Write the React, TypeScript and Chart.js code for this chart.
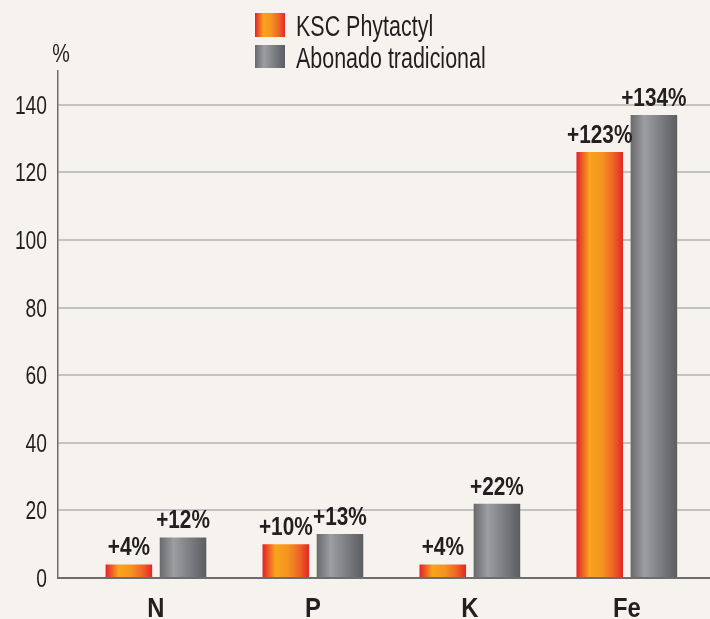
import React, { useEffect, useRef } from "react";
import { Chart, registerables } from "chart.js";

Chart.register(...registerables);

const categories = ["N", "P", "K", "Fe"];
const seriesNames = ["KSC Phytactyl", "Abonado tradicional"];
const kscValues = [4, 10, 4, 126];
const tradValues = [12, 13, 22, 137];
const kscLabels = ["+4%", "+10%", "+4%", "+123%"];
const tradLabels = ["+12%", "+13%", "+22%", "+134%"];
const yTicks = [0, 20, 40, 60, 80, 100, 120, 140];
const yMax = 150;
const unitLabel = "%";

const FONT = "'Liberation Sans', Arial, sans-serif";
const TEXT = "#231f20";
const BG = "#f6f3ef";

function orangeGrad(ctx: CanvasRenderingContext2D, x0: number, x1: number) {
  const g = ctx.createLinearGradient(x0, 0, x1, 0);
  g.addColorStop(0, "#e4202a");
  g.addColorStop(0.28, "#f8a41c");
  g.addColorStop(0.55, "#f49321");
  g.addColorStop(0.8, "#ee6326");
  g.addColorStop(1, "#e42626");
  return g;
}
function grayGrad(ctx: CanvasRenderingContext2D, x0: number, x1: number) {
  const g = ctx.createLinearGradient(x0, 0, x1, 0);
  g.addColorStop(0, "#69696c");
  g.addColorStop(0.3, "#9d9ea1");
  g.addColorStop(0.5, "#8a8b8e");
  g.addColorStop(1, "#5c5d60");
  return g;
}
const grads = [orangeGrad, grayGrad];
const barLabels = [kscLabels, tradLabels];

// condensed text: Liberation Sans squeezed horizontally
function condText(
  ctx: CanvasRenderingContext2D,
  text: string,
  x: number,
  y: number,
  size: number,
  bold: boolean,
  align: CanvasTextAlign,
  sx: number
) {
  ctx.save();
  ctx.translate(x, y);
  ctx.scale(sx, 1);
  ctx.font = `${bold ? "bold " : ""}${size}px ${FONT}`;
  ctx.textAlign = align;
  ctx.textBaseline = "alphabetic";
  ctx.fillStyle = TEXT;
  ctx.fillText(text, 0, 0);
  ctx.restore();
}

const bgPlugin = {
  id: "bg",
  beforeDraw(chart: any) {
    const { ctx, width, height } = chart;
    ctx.save();
    ctx.fillStyle = BG;
    ctx.fillRect(0, 0, width, height);
    ctx.restore();
  },
};

const gradientPlugin = {
  id: "grad",
  beforeDatasetsDraw(chart: any) {
    const ctx = chart.ctx;
    chart.data.datasets.forEach((_: any, di: number) => {
      const meta = chart.getDatasetMeta(di);
      meta.data.forEach((el: any) => {
        const x0 = el.x - el.width / 2;
        const x1 = el.x + el.width / 2;
        el.options.backgroundColor = grads[di](ctx, x0, x1);
      });
    });
  },
};

const labelPlugin = {
  id: "labels",
  afterDatasetsDraw(chart: any) {
    const ctx = chart.ctx;
    chart.data.datasets.forEach((_: any, di: number) => {
      const meta = chart.getDatasetMeta(di);
      meta.data.forEach((el: any, i: number) => {
        condText(ctx, barLabels[di][i], el.x, el.y - 9, 26, true, "center", 0.8);
      });
    });
  },
};

const axisTextPlugin = {
  id: "axisText",
  afterDraw(chart: any) {
    const ctx = chart.ctx;
    const xs = chart.scales.x;
    const ys = chart.scales.y;
    yTicks.forEach((v) => {
      const py = ys.getPixelForValue(v);
      condText(ctx, String(v), ys.right - 11, py + 9, 25, false, "right", 0.77);
    });
    categories.forEach((c, i) => {
      const px = xs.getPixelForValue(i);
      condText(ctx, c, px, xs.top + 39, 28, true, "center", 0.85);
    });
    condText(ctx, unitLabel, 61, 62, 26, false, "center", 0.76);
  },
};

const legendPlugin = {
  id: "customLegend",
  afterDraw(chart: any) {
    const ctx = chart.ctx;
    ctx.save();
    const boxX = 255;
    const boxW = 30;
    const rows = [
      { y: 13, h: 24, base: 36 },
      { y: 45, h: 23, base: 68 },
    ];
    rows.forEach((r, i) => {
      ctx.fillStyle = grads[i](ctx, boxX, boxX + boxW);
      ctx.fillRect(boxX, r.y, boxW, r.h);
      condText(ctx, seriesNames[i], 296, r.base, 29, false, "left", 0.74);
    });
    ctx.restore();
  },
};

export default function App() {
  const ref = useRef<HTMLCanvasElement | null>(null);
  useEffect(() => {
    if (!ref.current) return;
    const chart = new Chart(ref.current, {
      type: "bar",
      data: {
        datasets: [
          {
            label: seriesNames[0],
            data: kscValues.map((v, i) => ({ x: i, y: v })),
            backgroundColor: () => "#f39a1f",
            borderWidth: 0,
            categoryPercentage: 0.69,
            barPercentage: 0.86,
          },
          {
            label: seriesNames[1],
            data: tradValues.map((v, i) => ({ x: i, y: v })),
            backgroundColor: () => "#8a8b8e",
            borderWidth: 0,
            categoryPercentage: 0.69,
            barPercentage: 0.86,
          },
        ],
      },
      options: {
        responsive: false,
        animation: false,
        layout: { padding: { top: 71, left: 0, right: 0, bottom: 0 } },
        plugins: {
          legend: { display: false },
          tooltip: { enabled: false },
        },
        scales: {
          x: {
            type: "linear",
            offset: false,
            min: -0.624,
            max: 3.53,
            afterBuildTicks: (scale: any) => {
              scale.ticks = categories.map((_, i) => ({ value: i }));
            },
            afterFit: (scale: any) => {
              scale.height = 41;
            },
            ticks: { display: false },
            grid: { display: false, drawTicks: false },
            border: { display: true, color: "#6d6d6d", width: 2 },
          },
          y: {
            min: 0,
            max: yMax,
            afterBuildTicks: (scale: any) => {
              scale.ticks = yTicks.map((v) => ({ value: v }));
            },
            afterFit: (scale: any) => {
              scale.width = 58;
            },
            ticks: { display: false },
            grid: {
              drawTicks: false,
              color: (c: any) => (c.tick && c.tick.value === 0 ? "#6d6d6d" : "#c3c3c3"),
              lineWidth: 2,
            },
            border: { display: true, color: "#6d6d6d", width: 1.5 },
          },
        },
      },
      plugins: [bgPlugin, gradientPlugin, labelPlugin, axisTextPlugin, legendPlugin],
    } as any);
    return () => chart.destroy();
  }, []);
  return (
    <div style={{ position: "absolute", left: 0, top: 0, width: 710, height: 619, background: BG }}>
      <canvas ref={ref} width={710} height={619} style={{ display: "block", width: 710, height: 619 }} />
    </div>
  );
}
